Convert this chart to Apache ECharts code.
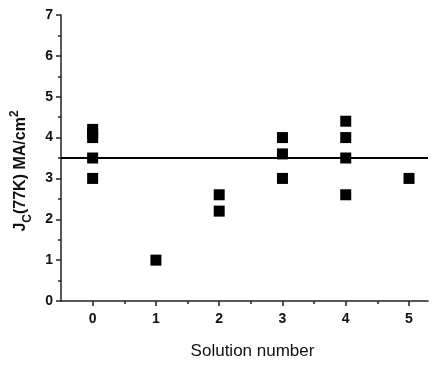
<!DOCTYPE html>
<html><head><meta charset="utf-8">
<script src="https://cdn.jsdelivr.net/npm/echarts@6/dist/echarts.min.js"></script>
<style>html,body{margin:0;padding:0;background:#fff}#c{width:438px;height:365px}</style>
</head><body><div id="c"></div>
<script>
const solutionNumbers = [0,0,0,0,0, 1, 2,2, 3,3,3, 4,4,4,4, 5];
const jcValues        = [3.0,3.5,4.0,4.1,4.2, 1.0, 2.6,2.2, 4.0,3.6,3.0, 4.4,4.0,3.5,2.6, 3.0];
const referenceLevel = 3.5;
const xTickLabels = [0,1,2,3,4,5];
const xMinorTicks = [0.5,1.5,2.5,3.5,4.5];
const yTickLabels = [0,1,2,3,4,5,6,7];
const yMinorTicks = [0.5,1.5,2.5,3.5,4.5,5.5,6.5];

const points = solutionNumbers.map((x,i)=>[x,jcValues[i]]);
const chart = echarts.init(document.getElementById('c'), null, {renderer:'canvas'});
const axisCol = '#222';
const font = 'Liberation Sans, Arial';
const minorAxisX = {type:'value',min:-0.5,max:5.3,position:'bottom',
  axisLine:{show:false,onZero:false},axisLabel:{show:false},splitLine:{show:false},
  axisTick:{show:true,inside:false,length:3,customValues:xMinorTicks,lineStyle:{color:axisCol,width:1.5}}};
const minorAxisY = {type:'value',min:0,max:7,position:'left',
  axisLine:{show:false,onZero:false},axisLabel:{show:false},splitLine:{show:false},
  axisTick:{show:true,inside:false,length:3,customValues:yMinorTicks,lineStyle:{color:axisCol,width:1.5}}};
chart.setOption({
  animation:false,
  grid:{left:61,right:10,top:15,bottom:63,containLabel:false},
  xAxis:[{
    type:'value',min:-0.5,max:5.3,position:'bottom',
    name:'Solution number',nameLocation:'middle',nameGap:42,
    nameTextStyle:{fontFamily:font,fontSize:17,color:'#111',padding:[0,0,0,16]},
    axisLine:{show:true,onZero:false,lineStyle:{color:axisCol,width:1.5}},
    axisTick:{show:true,inside:false,length:5,customValues:xTickLabels,lineStyle:{color:axisCol,width:1.5}},
    axisLabel:{show:true,customValues:xTickLabels,margin:11,fontFamily:font,fontWeight:'bold',fontSize:14,color:'#111'},
    splitLine:{show:false}
  }, minorAxisX],
  yAxis:[{
    type:'value',min:0,max:7,position:'left',
    name:'{m|J}{s|C}{m|(77K) MA/cm}{p|2}',nameLocation:'middle',nameGap:32,nameRotate:90,
    nameTextStyle:{padding:[0,0,0,-26],rich:{
      m:{fontFamily:font,fontWeight:'bold',fontSize:16,color:'#111',verticalAlign:'bottom',lineHeight:20},
      s:{fontFamily:font,fontWeight:'bold',fontSize:12,color:'#111',verticalAlign:'bottom',lineHeight:14,padding:[0,0,-5,0]},
      p:{fontFamily:font,fontWeight:'bold',fontSize:12,color:'#111',verticalAlign:'top',lineHeight:20,padding:[0,0,13,0]}
    }},
    axisLine:{show:true,onZero:false,lineStyle:{color:axisCol,width:1.5}},
    axisTick:{show:true,inside:false,length:5,customValues:yTickLabels,lineStyle:{color:axisCol,width:1.5}},
    axisLabel:{show:true,customValues:yTickLabels,margin:8,fontFamily:font,fontWeight:'bold',fontSize:14,color:'#111'},
    splitLine:{show:false}
  }, minorAxisY],
  series:[{
    type:'scatter',data:points,symbol:'rect',symbolSize:11,
    itemStyle:{color:'#000',opacity:1},
    markLine:{silent:true,symbol:'none',label:{show:false},lineStyle:{color:'#000',width:1.8,type:'solid',opacity:1},
      data:[{yAxis:referenceLevel}]}
  }]
});
</script></body></html>
